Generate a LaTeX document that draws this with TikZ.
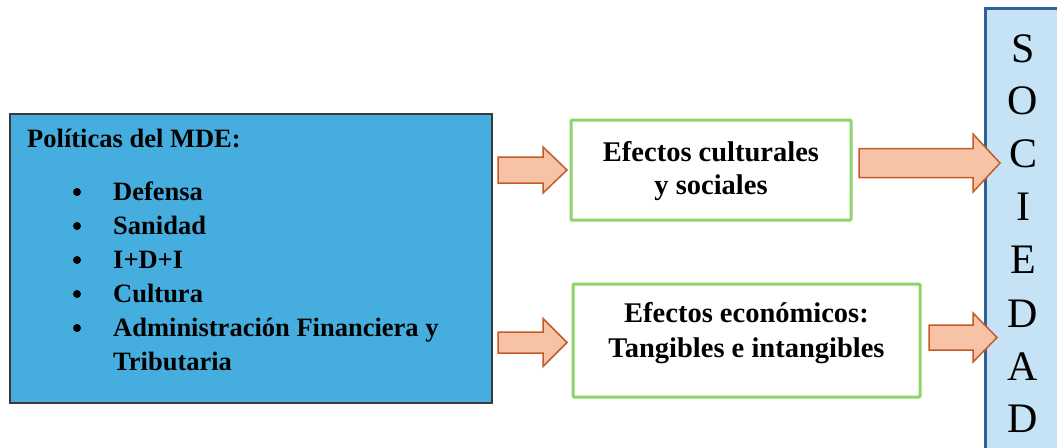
\documentclass[tikz,border=0pt]{standalone}
\usepackage{fontspec}
\setmainfont{Liberation Serif}
\definecolor{mdeblue}{HTML}{45AEDF}
\definecolor{mdeedge}{HTML}{3A3A3A}
\definecolor{effgreen}{HTML}{8ED46C}
\definecolor{socfill}{HTML}{C5E3F4}
\definecolor{socedge}{HTML}{2E6099}
\definecolor{arrfill}{HTML}{F6C3A7}
\definecolor{arredge}{HTML}{C65A25}
\tikzset{
  mdebox/.style={draw=mdeedge, line width=1.2pt, fill=mdeblue},
  effbox/.style={draw=effgreen, line width=3pt, fill=white, rounded corners=1pt},
  socbox/.style={draw=socedge, line width=3pt, fill=socfill},
  blockarrow/.style={draw=arredge, line width=1.5pt, fill=arrfill, line join=miter},
  txt/.style={inner sep=0pt, anchor=base west, font=\bfseries\fontsize{26.5}{26.5}\selectfont},
  ctxt/.style={inner sep=0pt, anchor=base, font=\bfseries\fontsize{28.5}{28.5}\selectfont},
  soc/.style={inner sep=0pt, anchor=base, font=\fontsize{42}{42}\selectfont},
}
% \barrow{x1}{xhead}{x2}{ycenter}{shafthalf}{headhalf}
\newcommand{\barrow}[6]{%
  \draw[blockarrow] (#1,#4-#5) -- (#2,#4-#5) -- (#2,#4-#6) -- (#3,#4) -- (#2,#4+#6) -- (#2,#4+#5) -- (#1,#4+#5) -- cycle;}
\begin{document}
\begin{tikzpicture}[x=1pt,y=-1pt]
\useasboundingbox (0,0) rectangle (1057,447);
% left box
\path[mdebox] (10,114) rectangle (492,403);
\node (mde) at (251,258.5) {};
\node[txt] (tit) at (27,147) {Políticas del MDE:};
\foreach \y/\t/\n in {200/Defensa/a, 234/Sanidad/b, 268/I+D+I/c, 302/Cultura/d, 336/{Administración Financiera y}/e}{
  \fill (77,\y-8) circle (4pt);
  \node[txt] (it\n) at (113,\y) {\t};
}
\node[txt] (itf) at (113,370) {Tributaria};
% effect boxes
\path[effbox] (571,120) rectangle (851,220);
\node[ctxt] (e1a) at (711,161) {Efectos culturales};
\node[ctxt] (e1b) at (711,194) {y sociales};
\path[effbox] (573,284) rectangle (920,397);
\node[ctxt] (e2a) at (746.5,322) {Efectos económicos:};
\node[ctxt] (e2b) at (746.5,357) {Tangibles e intangibles};
% sociedad
\begin{scope}
\clip (0,0) rectangle (1057,447);
\path[socbox] (985,8) rectangle (1075,470);
\end{scope}
\foreach \l/\y/\n in {S/62/1,O/114/2,C/167/3,I/220/4,E/273/5,D/327/6,A/380/7,D/432/8}{
  \node[soc] (s\n) at (1023,\y) {\l};
}
% arrows
\barrow{498}{543}{567}{170}{13}{23}
\barrow{498}{543}{567}{342.5}{10.5}{24}
\barrow{859}{973}{1000}{163}{14.5}{29}
\barrow{929}{973}{997}{337.5}{12.5}{24.5}
\end{tikzpicture}
\end{document}
